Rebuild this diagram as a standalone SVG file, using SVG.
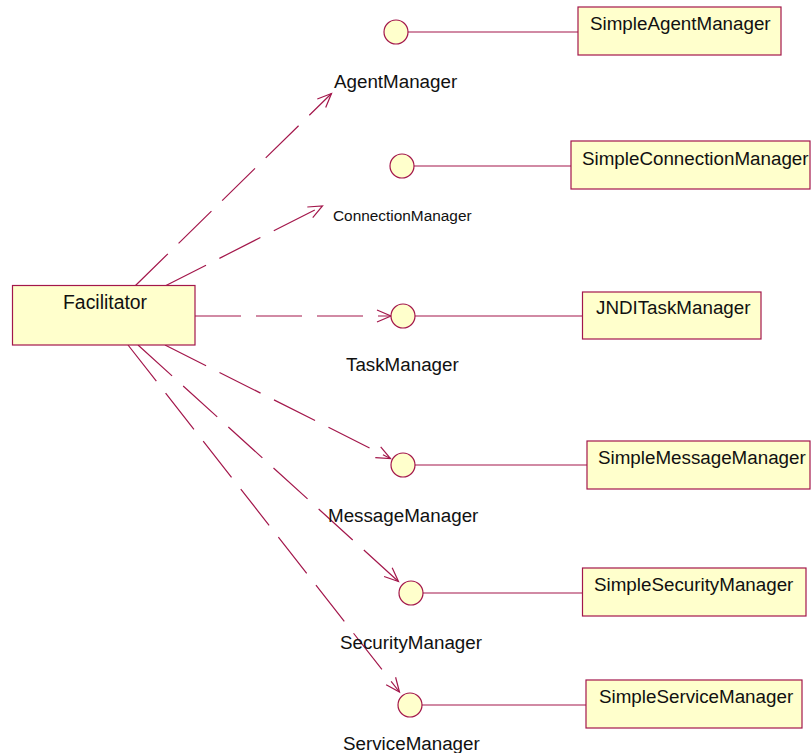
<svg xmlns="http://www.w3.org/2000/svg" width="812" height="753" viewBox="0 0 812 753">
  <style>
    .box { fill: #ffffcc; stroke: #a3174b; stroke-width: 1.2; }
    .iface { fill: #ffffcc; stroke: #a3174b; stroke-width: 1.2; }
    .link { stroke: #a3174b; stroke-width: 1.2; fill: none; }
    .dep { stroke: #a3174b; stroke-width: 1.2; fill: none; stroke-dasharray: 46 15; marker-end: url(#open); }
    .t { font-family: "Liberation Sans", Arial, sans-serif; font-size: 18.8px; fill: #111; }
    .small { font-size: 15.4px; }
  </style>
  <defs>
    <marker id="open" viewBox="-16 -8 18 16" refX="0" refY="0" markerWidth="18" markerHeight="16" markerUnits="userSpaceOnUse" orient="auto">
      <path d="M -14 -6 L 0 0 L -14 6" fill="none" stroke="#a3174b" stroke-width="1.2"/>
    </marker>
  </defs>
  <rect width="812" height="753" fill="#ffffff"/>

  <!-- dependencies from Facilitator to each interface -->
  <g id="connectors">
    <line class="dep" x1="135" y1="286" x2="331.5" y2="93.5"/>
    <line class="dep" x1="165" y1="286" x2="322.5" y2="206"/>
    <line class="dep" x1="195" y1="316" x2="391" y2="316"/>
    <line class="dep" x1="165" y1="345" x2="390.5" y2="458.5"/>
    <line class="dep" x1="138" y1="345" x2="398.5" y2="581.5"/>
    <line class="dep" x1="128" y1="345" x2="399.5" y2="692"/>
    <!-- realizations: interface lollipop to implementing class -->
    <line class="link" x1="408" y1="32" x2="578" y2="32"/>
    <line class="link" x1="414" y1="166" x2="571" y2="166"/>
    <line class="link" x1="415" y1="316" x2="582.5" y2="316"/>
    <line class="link" x1="415" y1="465" x2="587" y2="465"/>
    <line class="link" x1="423" y1="593" x2="582.5" y2="593"/>
    <line class="link" x1="422" y1="705" x2="586" y2="705"/>
  </g>

  <g id="Facilitator">
    <rect class="box" x="12.5" y="285.5" width="182.5" height="59.5"/>
    <text class="t" x="63" y="309" style="font-size:19.4px">Facilitator</text>
  </g>

  <g id="AgentManager">
    <circle class="iface" cx="396" cy="32" r="12"/>
    <text class="t" x="334" y="88">AgentManager</text>
  </g>
  <g id="ConnectionManager">
    <circle class="iface" cx="402" cy="166" r="12"/>
    <text class="t small" x="333" y="221">ConnectionManager</text>
  </g>
  <g id="TaskManager">
    <circle class="iface" cx="403" cy="316" r="12"/>
    <text class="t" x="346" y="371">TaskManager</text>
  </g>
  <g id="MessageManager">
    <circle class="iface" cx="403" cy="465" r="12"/>
    <text class="t" x="328" y="522">MessageManager</text>
  </g>
  <g id="SecurityManager">
    <circle class="iface" cx="411" cy="593" r="12"/>
    <text class="t" x="340" y="649">SecurityManager</text>
  </g>
  <g id="ServiceManager">
    <circle class="iface" cx="410" cy="705" r="12"/>
    <text class="t" x="343" y="750">ServiceManager</text>
  </g>

  <g id="SimpleAgentManager">
    <rect class="box" x="578" y="7" width="203" height="48"/>
    <text class="t" x="590" y="30">SimpleAgentManager</text>
  </g>
  <g id="SimpleConnectionManager">
    <rect class="box" x="571" y="141" width="239" height="48"/>
    <text class="t" x="582" y="165">SimpleConnectionManager</text>
  </g>
  <g id="JNDITaskManager">
    <rect class="box" x="582.5" y="292" width="178.5" height="47"/>
    <text class="t" x="596" y="314">JNDITaskManager</text>
  </g>
  <g id="SimpleMessageManager">
    <rect class="box" x="587" y="441" width="223" height="48"/>
    <text class="t" x="598" y="464">SimpleMessageManager</text>
  </g>
  <g id="SimpleSecurityManager">
    <rect class="box" x="582.5" y="568" width="223.5" height="48"/>
    <text class="t" x="594" y="591">SimpleSecurityManager</text>
  </g>
  <g id="SimpleServiceManager">
    <rect class="box" x="586" y="680" width="216" height="48"/>
    <text class="t" x="599" y="703">SimpleServiceManager</text>
  </g>
</svg>
